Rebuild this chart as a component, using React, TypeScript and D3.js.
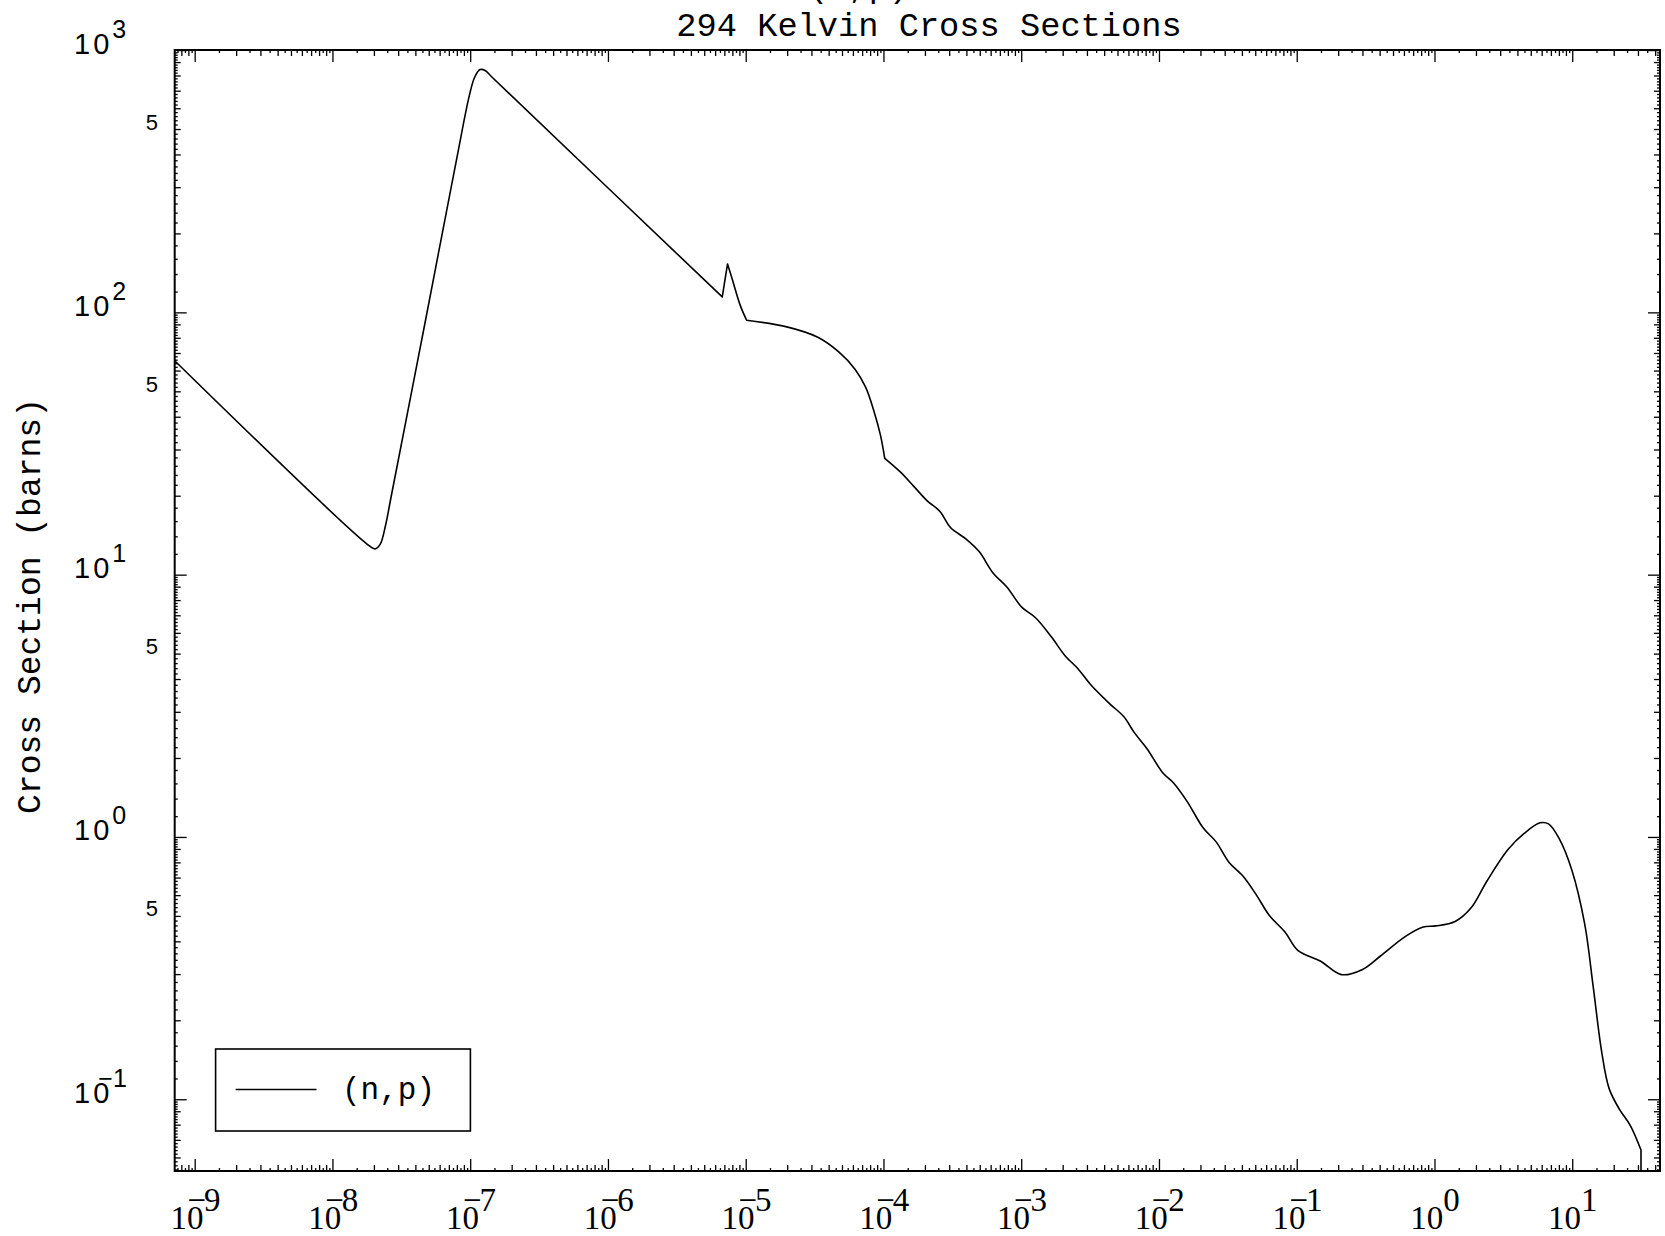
import { useEffect, useRef } from "react";
import * as d3 from "d3";

// (n,p) cross section
const energyMeV = [
  7.1e-10, 1.75e-8, 2.02e-8, 2.2e-8, 2.41e-8, 2.63e-8, 4.65e-8, 7.91e-8, 9.79e-8,
  1.07e-7, 1.17e-7, 1.28e-7, 1.4e-7, 6.7e-6, 7.32e-6, 7.99e-6, 9.05e-6, 1.007e-5,
  1.94e-5, 3.31e-5, 4.72e-5, 6.16e-5, 7.36e-5, 8.48e-5, 9.43e-5, 1.013e-4, 1.32e-4,
  1.635e-4, 2.06e-4, 2.55e-4, 3.04e-4, 3.97e-4, 4.91e-4, 6.19e-4, 7.8e-4, 1.0e-3,
  1.26e-3, 1.64e-3, 2.07e-3, 2.56e-3, 3.17e-3, 4.36e-3, 5.5e-3, 6.57e-3, 8.12e-3,
  1.06e-2, 1.27e-2, 1.59e-2, 2.08e-2, 2.58e-2, 3.19e-2, 4.02e-2, 5.06e-2, 6.26e-2,
  8.17e-2, 0.101, 0.147, 0.209, 0.298, 0.404, 0.607, 0.821, 1.016, 1.4, 1.83, 2.38,
  3.4, 4.44, 5.79, 6.67, 7.96, 9.86, 12.2, 14.1, 16.2, 18.35, 21.9, 26.2, 31.3, 31.3,
];
const sigmaBarns = [
  65.7, 13.2, 12.6, 13.1, 15.5, 19.6, 91.1, 386.6, 676, 793, 846, 838, 800, 115,
  153.6, 132.3, 106.8, 93.7, 88.6, 80.7, 70.8, 61.0, 52.1, 42.0, 34.2, 27.9, 24.7,
  21.9, 19.2, 17.5, 15.2, 13.7, 12.3, 10.2, 9.02, 7.55, 6.88, 5.82, 4.92, 4.4, 3.82,
  3.23, 2.89, 2.51, 2.18, 1.76, 1.61, 1.37, 1.086, 0.962, 0.805, 0.714, 0.603, 0.505,
  0.435, 0.371, 0.338, 0.3, 0.314, 0.354, 0.419, 0.456, 0.46, 0.478, 0.539, 0.681,
  0.901, 1.036, 1.137, 1.127, 0.992, 0.75, 0.469, 0.268, 0.153, 0.1105, 0.0917,
  0.0797, 0.0643, 0.03,
];
// indices where the curve has a sharp corner (not smoothed)
const cornerIdx = [13, 14, 17, 25, 78];

const xDecades = [-9, -8, -7, -6, -5, -4, -3, -2, -1, 0, 1];
const yDecades = [-1, 0, 1, 2, 3];
const yFiveTicks = [0.5, 5, 50, 500];
const xMinorStep = 0.5;
const yMinorStep = 0.2;

const W = 1665;
const H = 1236;
const left = 174.7;
const right = 1660;
const top = 50;
const bottom = 1171;

export default function App() {
  const ref = useRef<SVGSVGElement | null>(null);

  useEffect(() => {
    if (!ref.current) return;
    const svg = d3.select(ref.current);
    svg.selectAll("*").remove();

    const x = d3.scaleLog().domain([7.1e-10, 43]).range([left, right]);
    const y = d3.scaleLog().domain([0.0535, 1005]).range([bottom, top]);

    svg.append("rect").attr("width", W).attr("height", H).attr("fill", "#fff");

    // ticks, mirrored on all four sides
    const ticks = svg.append("g").attr("stroke", "#000").attr("stroke-width", 1.3);
    const minorTicks = (step: number, lo: number, hi: number) => {
      const out: { v: number; len: number }[] = [];
      for (let k = Math.floor(Math.log10(lo)) - 1; k <= Math.ceil(Math.log10(hi)); k++) {
        for (let m = 1; m < 9.999; m = +(m + step).toFixed(3)) {
          const v = m * Math.pow(10, k);
          if (v < lo || v > hi) continue;
          const len = m === 1 ? 12 : Number.isInteger(m) ? 6 : 3;
          out.push({ v, len });
        }
      }
      return out;
    };
    const [xlo, xhi] = x.domain();
    minorTicks(xMinorStep, xlo, xhi).forEach((t) => {
      const px = x(t.v);
      ticks.append("line").attr("x1", px).attr("x2", px).attr("y1", bottom).attr("y2", bottom - t.len);
      ticks.append("line").attr("x1", px).attr("x2", px).attr("y1", top).attr("y2", top + t.len);
    });
    const [ylo, yhi] = y.domain();
    minorTicks(yMinorStep, ylo, yhi).forEach((t) => {
      const py = y(t.v);
      ticks.append("line").attr("x1", left).attr("x2", left + t.len).attr("y1", py).attr("y2", py);
      ticks.append("line").attr("x1", right).attr("x2", right - t.len).attr("y1", py).attr("y2", py);
    });

    // frame
    svg
      .append("rect")
      .attr("x", left)
      .attr("y", top)
      .attr("width", right - left)
      .attr("height", bottom - top)
      .attr("fill", "none")
      .attr("stroke", "#000")
      .attr("stroke-width", 2);

    // x tick labels: 10 with exponent, minus tucked over the 0
    const xl = svg
      .append("g")
      .attr("font-family", "'Liberation Serif', serif")
      .attr("fill", "#000");
    xDecades.forEach((k) => {
      const px = x(Math.pow(10, k));
      const digits = String(Math.abs(k));
      const w = 33 + digits.length * 16.5;
      const t = xl.append("text").attr("x", px - w / 2).attr("y", 1229).attr("font-size", 33);
      t.append("tspan").text("10");
      if (k < 0) {
        t.append("tspan").attr("dx", -16).attr("dy", -18).text("\u2212");
        t.append("tspan").attr("dx", -2).text(digits);
      } else {
        t.append("tspan").attr("dy", -18).text(digits);
      }
    });

    // y tick labels
    const yl = svg
      .append("g")
      .attr("font-family", "'Liberation Sans', sans-serif")
      .attr("fill", "#000");
    yDecades.forEach((k) => {
      const py = y(Math.pow(10, k));
      const t = yl.append("text").attr("x", 74).attr("y", py + 3).attr("font-size", 29);
      t.append("tspan").attr("letter-spacing", 3).text("10");
      if (k < 0) {
        t.append("tspan").attr("font-size", 25).attr("dx", -14).attr("dy", -16).text("\u2212");
        t.append("tspan").attr("font-size", 25).text(String(-k));
      } else {
        t.append("tspan").attr("font-size", 25).attr("dy", -16).text(String(k));
      }
    });
    yFiveTicks.forEach((v) => {
      yl.append("text")
        .attr("x", 158)
        .attr("y", y(v))
        .attr("text-anchor", "end")
        .attr("font-size", 22)
        .text("5");
    });

    // titles
    const mono = "'Liberation Mono', 'DejaVu Sans Mono', monospace";
    svg
      .append("text")
      .attr("x", 808)
      .attr("y", -3)
      .attr("font-family", mono)
      .attr("font-size", 33.7)
      .text("(n,p)");
    svg
      .append("text")
      .attr("x", 929)
      .attr("y", 36)
      .attr("text-anchor", "middle")
      .attr("font-family", mono)
      .attr("font-size", 33.7)
      .text("294 Kelvin Cross Sections");
    svg
      .append("text")
      .attr("transform", `translate(40,606) rotate(-90)`)
      .attr("text-anchor", "middle")
      .attr("font-family", mono)
      .attr("font-size", 33)
      .text("Cross Section (barns)");

    // curve: smooth runs joined at sharp corners
    svg
      .append("clipPath")
      .attr("id", "plotClip")
      .append("rect")
      .attr("x", left)
      .attr("y", top)
      .attr("width", right - left)
      .attr("height", bottom - top);
    const pts = energyMeV.map((e, i) => [e, sigmaBarns[i]] as [number, number]);
    const line = d3
      .line<[number, number]>()
      .x((d) => x(d[0]))
      .y((d) => y(d[1]))
      .curve(d3.curveCatmullRom.alpha(0.5));
    const breaks = [0, ...cornerIdx, pts.length - 1];
    let d = "";
    for (let i = 0; i < breaks.length - 1; i++) {
      d += line(pts.slice(breaks[i], breaks[i + 1] + 1)) ?? "";
    }
    svg
      .append("path")
      .attr("clip-path", "url(#plotClip)")
      .attr("d", d)
      .attr("fill", "none")
      .attr("stroke", "#000")
      .attr("stroke-width", 1.6)
      .attr("stroke-linejoin", "round")
      .attr("stroke-linecap", "round");

    // legend
    const lg = svg.append("g");
    lg.append("rect")
      .attr("x", 215.6)
      .attr("y", 1049)
      .attr("width", 254.8)
      .attr("height", 82)
      .attr("fill", "#fff")
      .attr("stroke", "#000")
      .attr("stroke-width", 1.6);
    lg.append("line")
      .attr("x1", 235.7)
      .attr("x2", 316.5)
      .attr("y1", 1089.5)
      .attr("y2", 1089.5)
      .attr("stroke", "#000")
      .attr("stroke-width", 1.6);
    lg.append("text")
      .attr("x", 342)
      .attr("y", 1099)
      .attr("font-family", mono)
      .attr("font-size", 31)
      .text("(n,p)");
  }, []);

  return (
    <svg
      ref={ref}
      width={W}
      height={H}
      style={{ position: "absolute", left: 0, top: 0, display: "block" }}
    />
  );
}
